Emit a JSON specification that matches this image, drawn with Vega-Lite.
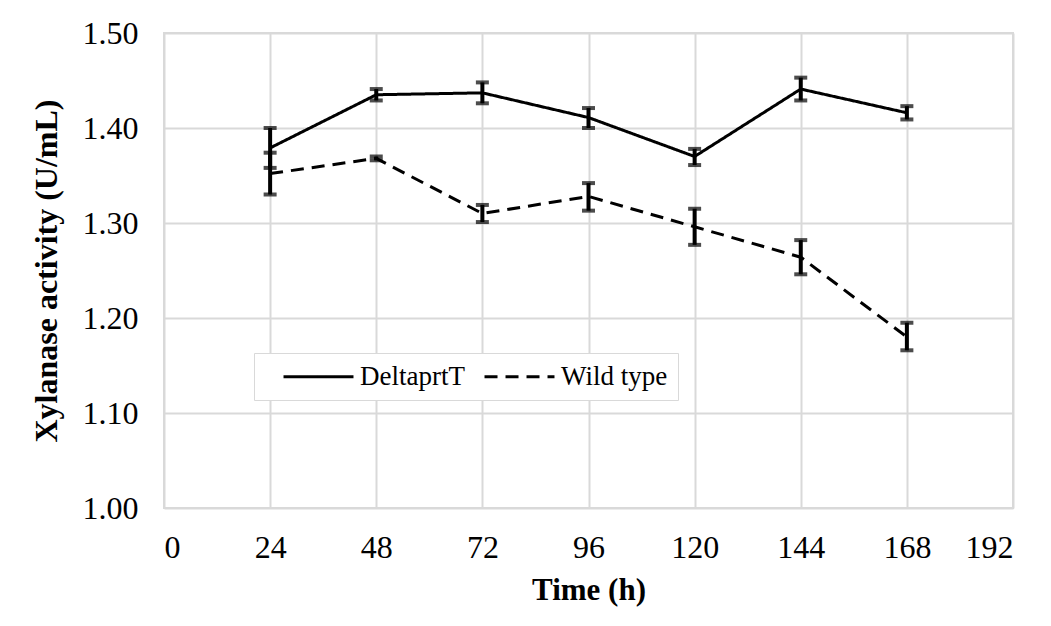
{
  "$schema": "https://vega.github.io/schema/vega-lite/v6.json",
  "autosize": "none",
  "width": 849,
  "height": 475,
  "padding": {"left": 164, "top": 33, "right": 38, "bottom": 118},
  "background": "white",
  "config": {
    "view": {"stroke": "#d9d9d9", "strokeWidth": 2},
    "font": "Liberation Serif",
    "axis": {
      "labelFont": "Liberation Serif",
      "titleFont": "Liberation Serif",
      "labelColor": "black",
      "titleColor": "black",
      "gridColor": "#d9d9d9",
      "gridWidth": 2,
      "domain": false,
      "ticks": false
    },
    "legend": {"labelFont": "Liberation Serif"}
  },
  "data": {
    "values": [
      {"time": 24, "series": "DeltaprtT", "mean": 1.379, "lo": 1.358, "hi": 1.400},
      {"time": 48, "series": "DeltaprtT", "mean": 1.435, "lo": 1.429, "hi": 1.441},
      {"time": 72, "series": "DeltaprtT", "mean": 1.437, "lo": 1.426, "hi": 1.448},
      {"time": 96, "series": "DeltaprtT", "mean": 1.411, "lo": 1.400, "hi": 1.421},
      {"time": 120, "series": "DeltaprtT", "mean": 1.370, "lo": 1.361, "hi": 1.378},
      {"time": 144, "series": "DeltaprtT", "mean": 1.441, "lo": 1.429, "hi": 1.453},
      {"time": 168, "series": "DeltaprtT", "mean": 1.416, "lo": 1.409, "hi": 1.423},
      {"time": 24, "series": "Wild type", "mean": 1.352, "lo": 1.330, "hi": 1.374},
      {"time": 48, "series": "Wild type", "mean": 1.368, "lo": 1.366, "hi": 1.370},
      {"time": 72, "series": "Wild type", "mean": 1.310, "lo": 1.301, "hi": 1.319},
      {"time": 96, "series": "Wild type", "mean": 1.328, "lo": 1.313, "hi": 1.342},
      {"time": 120, "series": "Wild type", "mean": 1.296, "lo": 1.277, "hi": 1.315},
      {"time": 144, "series": "Wild type", "mean": 1.264, "lo": 1.246, "hi": 1.282},
      {"time": 168, "series": "Wild type", "mean": 1.180, "lo": 1.166, "hi": 1.195}
    ]
  },
  "encoding": {
    "x": {
      "field": "time",
      "type": "quantitative",
      "scale": {"domain": [0, 192], "nice": false, "zero": true},
      "axis": {
        "values": [0, 24, 48, 72, 96, 120, 144, 168, 192],
        "title": "Time (h)",
        "labelFont": "Liberation Serif",
        "labelFontSize": 32,
        "labelPadding": 24,
        "titleFont": "Liberation Serif",
        "titleFontSize": 31,
        "titleFontWeight": "bold",
        "titlePadding": 12
      }
    }
  },
  "layer": [
    {
      "mark": {"type": "line", "color": "black", "strokeWidth": 3},
      "encoding": {
        "y": {
          "field": "mean",
          "type": "quantitative",
          "scale": {"domain": [1.0, 1.5], "nice": false, "zero": false},
          "axis": {
            "values": [1.0, 1.1, 1.2, 1.3, 1.4, 1.5],
            "format": ".2f",
            "title": "Xylanase activity  (U/mL)",
            "labelFont": "Liberation Serif",
            "labelFontSize": 32,
            "labelPadding": 26,
            "titleFont": "Liberation Serif",
            "titleFontSize": 32,
            "titleFontWeight": "bold",
            "titlePadding": 19
          }
        },
        "strokeDash": {
          "field": "series",
          "type": "nominal",
          "scale": {"domain": ["DeltaprtT", "Wild type"], "range": [[1, 0], [13, 8]]},
          "legend": {
            "title": null,
            "orient": "none",
            "legendX": 90,
            "legendY": 320,
            "direction": "horizontal",
            "symbolType": "M-4,0H4",
            "symbolSize": 306,
            "symbolOffset": 41,
            "symbolStrokeWidth": 3,
            "symbolStrokeColor": "black",
            "symbolFillColor": "transparent",
            "labelFont": "Liberation Serif",
            "labelFontSize": 27,
            "labelColor": "black",
            "labelOffset": 28,
            "columnPadding": -5,
            "padding": 10,
            "strokeColor": "#d9d9d9",
            "fillColor": "white",
            "rowPadding": 0,
            "encode": {
              "labels": {"update": {"font": {"value": "Liberation Serif"}, "fontSize": {"value": 27}}}
            }
          }
        },
        "detail": {"field": "series"}
      }
    },
    {
      "mark": {"type": "rule", "color": "black", "strokeWidth": 4},
      "encoding": {
        "y": {"field": "lo", "type": "quantitative"},
        "y2": {"field": "hi"}
      }
    },
    {
      "mark": {"type": "tick", "color": "black", "size": 13, "thickness": 4, "orient": "horizontal"},
      "encoding": {"y": {"field": "lo", "type": "quantitative"}}
    },
    {
      "mark": {"type": "tick", "color": "black", "size": 13, "thickness": 4, "orient": "horizontal"},
      "encoding": {"y": {"field": "hi", "type": "quantitative"}}
    }
  ]
}
